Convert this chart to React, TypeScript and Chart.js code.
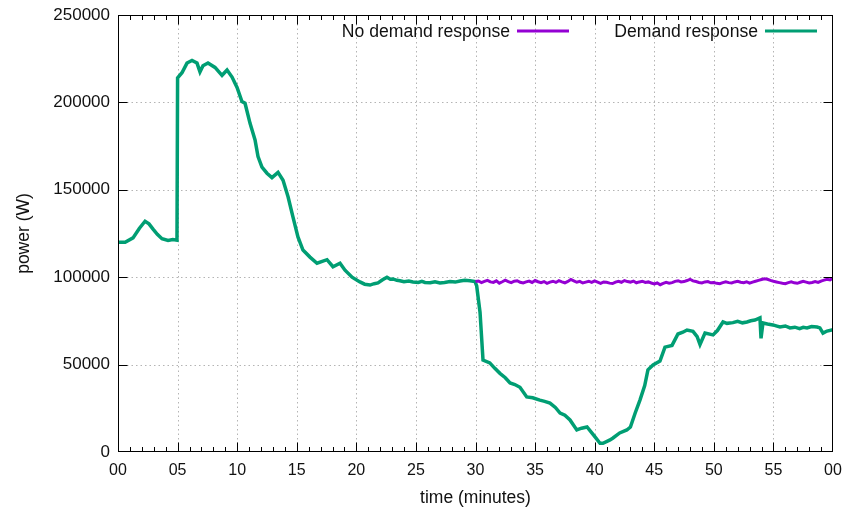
import React, { useEffect, useRef } from "react";
import { Chart, registerables } from "chart.js";

Chart.register(...registerables);

// Demand-response run: power draw over one hour (minutes, watts)
const demandTime = [
  0, 0.6, 1.26, 1.8, 2.27, 2.6, 2.94, 3.3, 3.69, 4.2, 4.6, 4.95,
  5.0, 5.37, 5.79, 6.21, 6.63, 6.88, 7.13, 7.55, 8.14, 8.73, 9.15, 9.57,
  9.99, 10.4, 10.66, 11.08, 11.5, 11.75, 12.08, 12.5, 12.92, 13.43, 13.85, 14.27,
  14.68, 15.1, 15.52, 16.11, 16.7, 17.54, 18.04, 18.63, 19.05, 19.64,
  20.3, 20.7, 21.15, 21.5, 21.82, 22.2, 22.57, 22.85, 23.08, 23.4, 23.66, 24.0,
  24.4, 24.75, 25.2, 25.5, 25.76, 26.2, 26.6, 27.02, 27.4, 27.86, 28.3, 28.7,
  29.1, 29.54, 29.96,
  30.1, 30.38, 30.63, 31.2, 31.6, 32.05, 32.5, 32.9, 33.3, 33.73, 34.3, 34.8,
  35.4, 35.8, 36.25, 36.7, 37.1, 37.5, 37.93, 38.5, 38.9, 39.36, 40.03, 40.45,
  40.7, 41.29, 41.54, 42.1, 42.7, 43.0, 43.4, 43.8, 44.2, 44.47, 44.9, 45.48,
  45.9, 46.49, 46.99, 47.4, 47.75, 48.25, 48.6, 48.84, 49.26, 49.93, 50.3, 50.77,
  51.1, 51.6, 52.0, 52.4, 52.78, 53.1, 53.45, 53.87, 53.96, 54.12, 54.5, 54.96,
  55.3, 55.55, 56.0, 56.39, 56.8, 57.2, 57.5, 57.82, 58.2, 58.66, 58.9, 59.16,
  59.5, 60.0,
];
const demandPower = [
  120000, 120000, 122500, 128000, 132000, 130500, 127500, 124500, 122000, 121000, 121500, 121200,
  214000, 217000, 222500, 224000, 222500, 217500, 221000, 222500, 220000, 215500, 218500, 214500,
  208500, 200500, 199500, 188000, 178500, 169000, 163000, 159500, 157000, 160000, 155500, 146000,
  134500, 123000, 115500, 111500, 108000, 110000, 106000, 108000, 104000, 100000,
  97300, 96000, 95500, 96300, 96700, 98500, 100000, 98800, 99000, 98200, 98000, 97400,
  97800, 97300, 97000, 97600, 97000, 96800, 97400, 96700, 97000, 97500, 97200, 97800,
  98200, 98000, 97500,
  95000, 80000, 52600, 51000, 48000, 45000, 42500, 39500, 38600, 37000, 31500, 31000,
  29700, 29000, 28000, 25500, 22300, 21000, 18300, 12600, 13600, 14300, 8600, 5000,
  5000, 6900, 8000, 10900, 12600, 14300, 22300, 29700, 38000, 47000, 49800, 52000,
  60000, 61000, 67500, 68500, 69800, 69000, 66000, 61500, 68000, 67000, 69500, 74400,
  73600, 74000, 74800, 73900, 74400, 75100, 75500, 76700, 65000, 73800, 73200, 72700,
  72000, 71500, 72100, 71000, 71400, 70600, 71300, 71000, 71800, 71500, 71000, 68000,
  69200, 70000,
];

// Baseline run without demand response, from minute 30 onward
const baselineTime = [
  30, 30.25, 30.5, 30.75, 31, 31.25, 31.5, 31.75, 32, 32.25, 32.5, 32.75,
  33, 33.25, 33.5, 33.75, 34, 34.25, 34.5, 34.75, 35, 35.25, 35.5, 35.75,
  36, 36.25, 36.5, 36.75, 37, 37.25, 37.5, 37.75, 38, 38.25, 38.5, 38.75,
  39, 39.25, 39.5, 39.75, 40, 40.25, 40.5, 40.75, 41, 41.25, 41.5, 41.75,
  42, 42.25, 42.5, 42.75, 43, 43.25, 43.5, 43.75, 44, 44.25, 44.5, 44.75,
  45, 45.25, 45.5, 45.75, 46, 46.25, 46.5, 46.75, 47, 47.25, 47.5, 47.75,
  48, 48.25, 48.5, 48.75, 49, 49.25, 49.5, 49.75, 50, 50.25, 50.5, 50.75,
  51, 51.25, 51.5, 51.75, 52, 52.25, 52.5, 52.75, 53, 53.25, 53.5, 53.75,
  54, 54.25, 54.5, 54.75, 55, 55.25, 55.5, 55.75, 56, 56.25, 56.5, 56.75,
  57, 57.25, 57.5, 57.75, 58, 58.25, 58.5, 58.75, 59, 59.25, 59.5, 59.75,
  60,
];
const baselinePower = [
  97500, 97800, 96900, 97600, 98200, 97300, 97000, 97900, 96600, 97400, 98300, 97500,
  96900, 97700, 98000, 97100, 96700, 97300, 97800, 97000, 98100, 97400, 96900, 97500,
  96500, 97200, 97700, 97000, 98000, 97300, 96800, 97600, 98700, 97900, 97100, 97600,
  96700, 97200, 97700, 97000, 97900, 97200, 96500, 97300, 97100, 96600, 96400, 97200,
  97700, 97100, 98100, 97500, 97200, 97800, 96800, 97300, 97700, 97000, 97300, 96700,
  96200, 96700, 95700, 96500, 97100, 96600, 96900, 97600, 98000, 97300, 97500, 98100,
  98800, 97900, 97500, 97000, 96700, 97300, 97500, 96800, 97000, 96500, 96300, 96900,
  97400, 96900, 96700, 97300, 97600, 97100, 96900, 97400, 96600, 97200, 97700, 98200,
  98700, 99100, 98800, 98200, 97700, 97300, 96900, 96500, 96300, 96900, 97400, 96800,
  96500, 97100, 97700, 97200, 96700, 97000, 97500, 97000, 97800, 98300, 98800, 98400,
  99600,
];

const xTickValues = [0, 5, 10, 15, 20, 25, 30, 35, 40, 45, 50, 55, 60];
const xTickLabels = ["00", "05", "10", "15", "20", "25", "30", "35", "40", "45", "50", "55", "00"];
const yTickValues = [0, 50000, 100000, 150000, 200000, 250000];
const seriesLabels = ["No demand response", "Demand response"];
const seriesColors = ["#9400d3", "#009e73"];

const FONT = "'Liberation Sans', Arial, Helvetica, sans-serif";

// gnuplot-like frame: dotted grid, black border, inward major/minor tick marks
const framePlugin = {
  id: "gnuFrame",
  beforeDatasetsDraw(chart: any) {
    const { ctx, chartArea: a, scales } = chart;
    const x = scales.x;
    const y = scales.y;
    ctx.save();
    ctx.strokeStyle = "#b4b4b4";
    ctx.lineWidth = 1;
    ctx.setLineDash([1.5, 3]);
    for (const v of xTickValues.slice(1, -1)) {
      const px = Math.round(x.getPixelForValue(v)) + 0.5;
      ctx.beginPath();
      ctx.moveTo(px, a.top);
      ctx.lineTo(px, a.bottom);
      ctx.stroke();
    }
    for (const v of yTickValues.slice(1, -1)) {
      const py = Math.round(y.getPixelForValue(v)) + 0.5;
      ctx.beginPath();
      ctx.moveTo(a.left, py);
      ctx.lineTo(a.right, py);
      ctx.stroke();
    }
    ctx.restore();
  },
  afterDatasetsDraw(chart: any) {
    const { ctx, chartArea: a, scales } = chart;
    const x = scales.x;
    const y = scales.y;
    ctx.save();
    ctx.strokeStyle = "#000";
    ctx.lineWidth = 1;
    ctx.setLineDash([]);
    const l = Math.round(a.left) + 0.5;
    const r = Math.round(a.right) - 0.5;
    const t = Math.round(a.top) + 0.5;
    const b = Math.round(a.bottom) - 0.5;
    ctx.strokeRect(l, t, r - l, b - t);
    ctx.beginPath();
    // x ticks every minute, majors every five, on bottom and top
    for (let m = 1; m < 60; m++) {
      const len = m % 5 === 0 ? 9 : 4.5;
      const px = Math.round(x.getPixelForValue(m)) + 0.5;
      ctx.moveTo(px, b);
      ctx.lineTo(px, b - len);
      ctx.moveTo(px, t);
      ctx.lineTo(px, t + len);
    }
    for (const v of yTickValues.slice(1, -1)) {
      const py = Math.round(y.getPixelForValue(v)) + 0.5;
      ctx.moveTo(l, py);
      ctx.lineTo(l + 9, py);
      ctx.moveTo(r, py);
      ctx.lineTo(r - 9, py);
    }
    ctx.stroke();
    ctx.restore();
  },
  afterDraw(chart: any) {
    const { ctx, chartArea: a } = chart;
    ctx.save();
    ctx.font = `17.6px ${FONT}`;
    ctx.textAlign = "right";
    ctx.textBaseline = "middle";
    ctx.fillStyle = "#111";
    const ly = a.top + 16;
    const entryShift = [248, 0];
    for (let i = 0; i < seriesLabels.length; i++) {
      const lineEnd = a.right - 16 - entryShift[i];
      const lineStart = lineEnd - 52;
      ctx.fillText(seriesLabels[i], lineStart - 7, ly + 1);
      ctx.strokeStyle = seriesColors[i];
      ctx.lineWidth = 3;
      ctx.beginPath();
      ctx.moveTo(lineStart, ly);
      ctx.lineTo(lineEnd, ly);
      ctx.stroke();
    }
    ctx.restore();
  },
};

export default function App() {
  const canvasRef = useRef<HTMLCanvasElement | null>(null);

  useEffect(() => {
    const canvas = canvasRef.current;
    if (!canvas) return;
    const baseline = baselineTime.map((t, i) => ({ x: t, y: baselinePower[i] }));
    const demand = demandTime.map((t, i) => ({ x: t, y: demandPower[i] }));

    const chart = new Chart(canvas, {
      type: "line",
      data: {
        datasets: [
          {
            label: seriesLabels[0],
            data: baseline,
            borderColor: seriesColors[0],
            borderWidth: 3,
            pointRadius: 0,
            tension: 0,
            fill: false,
          },
          {
            label: seriesLabels[1],
            data: demand,
            borderColor: seriesColors[1],
            borderWidth: 3.5,
            pointRadius: 0,
            tension: 0,
            fill: false,
          },
        ],
      },
      options: {
        responsive: false,
        animation: false,
        events: [],
        layout: { padding: { left: 0, right: 10, top: 15, bottom: 0 } },
        plugins: {
          legend: { display: false },
          tooltip: { enabled: false },
        },
        scales: {
          x: {
            type: "linear",
            min: 0,
            max: 60,
            afterBuildTicks: (s: any) => {
              s.ticks = xTickValues.map((v) => ({ value: v }));
            },
            afterFit: (s: any) => {
              s.height = 57;
              s.paddingLeft = 0;
              s.paddingRight = 0;
            },
            grid: { display: false, drawTicks: false },
            border: { display: false },
            ticks: {
              autoSkip: false,
              maxRotation: 0,
              padding: 9,
              color: "#111",
              font: { family: FONT, size: 16 },
              callback: (v: any) => {
                const i = xTickValues.indexOf(Number(v));
                return i >= 0 ? xTickLabels[i] : "";
              },
            },
            title: {
              display: true,
              text: "time (minutes)",
              color: "#111",
              font: { family: FONT, size: 17.5 },
              padding: { top: 4, bottom: 0 },
            },
          },
          y: {
            type: "linear",
            min: 0,
            max: 250000,
            afterBuildTicks: (s: any) => {
              s.ticks = yTickValues.map((v) => ({ value: v }));
            },
            afterFit: (s: any) => {
              s.width = 118;
              s.paddingTop = 0;
              s.paddingBottom = 0;
            },
            grid: { display: false, drawTicks: false },
            border: { display: false },
            ticks: {
              padding: 8,
              color: "#111",
              font: { family: FONT, size: 17 },
              callback: (v: any) => String(v),
            },
            title: {
              display: true,
              text: "power (W)",
              color: "#111",
              font: { family: FONT, size: 17.5 },
              padding: { top: 14, bottom: 0 },
            },
          },
        },
      },
      plugins: [framePlugin],
    });
    return () => chart.destroy();
  }, []);

  return (
    <div style={{ position: "fixed", left: 0, top: 0, width: 843, height: 509, background: "#fff" }}>
      <canvas ref={canvasRef} width={843} height={509} style={{ display: "block" }} />
    </div>
  );
}
